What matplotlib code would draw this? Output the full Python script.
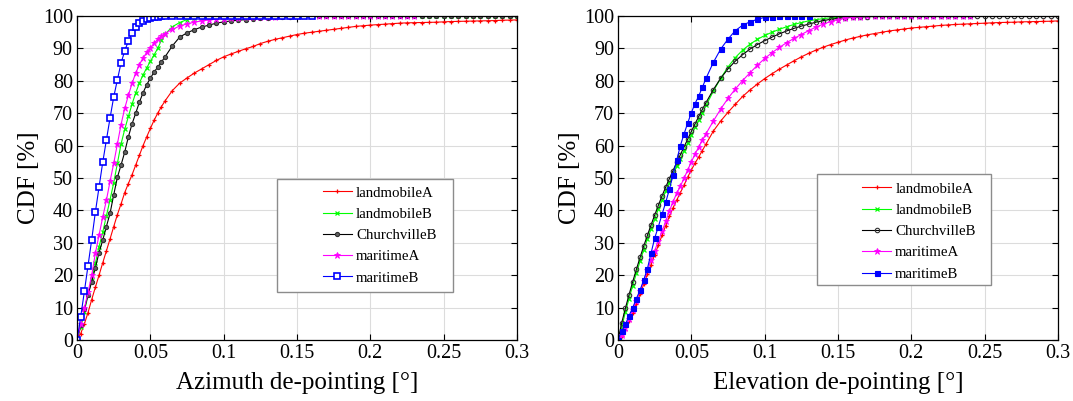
import matplotlib
matplotlib.use("Agg")
import matplotlib.pyplot as plt
from matplotlib.patches import Rectangle

plt.rcParams['font.family'] = ['Liberation Serif', 'DejaVu Serif']

# de-pointing values [deg] at which the CDFs are sampled
depointing = [0, 0.0025, 0.005, 0.0075, 0.01, 0.0125, 0.015, 0.0175, 0.02, 0.0225,
              0.025, 0.0275, 0.03, 0.0325, 0.035, 0.0375, 0.04, 0.0425, 0.045, 0.0475,
              0.05, 0.0525, 0.055, 0.0575, 0.06, 0.065, 0.07, 0.075, 0.08, 0.085,
              0.09, 0.095, 0.1, 0.105, 0.11, 0.115, 0.12, 0.125, 0.13, 0.135,
              0.14, 0.145, 0.15, 0.155, 0.16, 0.165, 0.17, 0.175, 0.18, 0.185,
              0.19, 0.195, 0.2, 0.205, 0.21, 0.215, 0.22, 0.225, 0.23, 0.235,
              0.24, 0.245, 0.25, 0.255, 0.26, 0.265, 0.27, 0.275, 0.28, 0.285,
              0.29, 0.295, 0.3]

labels = ["landmobileA", "landmobileB", "ChurchvilleB", "maritimeA", "maritimeB"]

# azimuth de-pointing CDF [%]
az_landmobileA = [0, 2, 5, 8.5, 12.5, 16.3, 20, 23.8, 27.5, 31.2,
                  35, 38.7, 42, 45.5, 48.3, 51, 54, 57, 60, 62.7,
                  65.3, 67.8, 70, 72, 73.8, 77, 79.3, 80.9, 82.4, 83.7,
                  85, 86.3, 87.4, 88.3, 89.1, 89.9, 90.6, 91.5, 92.2, 92.8,
                  93.3, 93.8, 94.3, 94.7, 95, 95.3, 95.6, 95.9, 96.2, 96.5,
                  96.8, 97, 97.2, 97.35, 97.5, 97.65, 97.8, 97.9, 97.95, 98,
                  98.05, 98.1, 98.2, 98.3, 98.35, 98.4, 98.45, 98.5, 98.55, 98.6,
                  98.7, 98.75, 98.8]
az_landmobileB = [0, 4, 8.8, 13.8, 18.6, 23.7, 28.8, 33.2, 38.3, 43.3,
                  48.5, 54.5, 60.5, 65, 69, 72.8, 76.3, 79.3, 81.8, 84,
                  86, 88, 90, 92.5, 94.4, 96.7, 98, 98.9, 99.4, 99.7,
                  99.8, 99.9, 99.95, 100, 100, 100, 100, 100, 100, 100,
                  100, 100, 100, 100, 100, 100, 100, 100, 100, 100,
                  100, 100, 100, 100, 100, 100, 100, 100, 100, 100,
                  100, 100, 100, 100, 100, 100, 100, 100, 100, 100,
                  100, 100, 100]
az_churchvilleB = [0, 4.5, 9.5, 14, 18, 22.3, 27, 30.8, 35, 39.1,
                   44.8, 50.2, 54, 58, 62.7, 66.7, 70, 73.4, 76.3, 78.8,
                   80.8, 82.7, 84.2, 85.8, 87.4, 90.8, 93.5, 94.8, 95.8, 96.6,
                   97.2, 97.8, 98.2, 98.5, 98.7, 98.9, 99.1, 99.3, 99.45, 99.6,
                   99.75, 99.85, 99.9, 99.93, 99.95, 100, 100, 100, 100, 100,
                   100, 100, 100, 100, 100, 100, 100, 100, 100, 100,
                   100, 100, 100, 100, 100, 100, 100, 100, 100, 100,
                   100, 100, 100]
az_maritimeA = [0, 4.9, 9.8, 14.7, 20, 26.8, 32.4, 37.9, 43.1, 49,
                54.5, 60.5, 66.5, 71.5, 75.5, 79.2, 82.4, 85, 87, 88.8,
                90.2, 91.6, 92.8, 93.8, 94.6, 95.9, 96.9, 97.6, 98.1, 98.5,
                98.8, 99, 99.2, 99.4, 99.5, 99.6, 99.7, 99.75, 99.8, 99.85,
                99.9, 99.92, 99.95, 99.97, 100, 100, 100, 100, 100, 100,
                100, 100, 100, 100, 100, 100, 100, 100, 100]
az_maritimeB = [0, 7.2, 15, 23, 31, 39.5, 47.2, 54.8, 61.7, 68.5,
                75, 80.3, 85.5, 89.2, 92.3, 94.8, 96.6, 97.7, 98.5, 99,
                99.4, 99.7, 99.8, 99.9, 99.95, 100, 100, 100, 100, 100,
                100, 100, 100, 100, 100, 100, 100, 100, 100, 100,
                100, 100, 100, 100, 100]

# elevation de-pointing CDF [%]
el_landmobileA = [0, 1.2, 3.2, 5.8, 8.4, 11.2, 14.2, 17.2, 20.3, 23.3,
                  26.3, 29.3, 32.3, 35.3, 38.2, 40.8, 43.2, 45.5, 47.8, 50.3,
                  52.5, 54.6, 56.5, 58.5, 60.5, 64.5, 67.6, 70.3, 72.8, 75.2,
                  77.2, 79, 80.7, 82.2, 83.6, 84.9, 86.2, 87.4, 88.5, 89.5,
                  90.4, 91.2, 91.9, 92.6, 93.2, 93.7, 94.2, 94.6, 95, 95.4,
                  95.7, 96, 96.3, 96.5, 96.7, 96.9, 97.1, 97.25, 97.4, 97.5,
                  97.6, 97.7, 97.8, 97.9, 98, 98.05, 98.1, 98.2, 98.25, 98.3,
                  98.35, 98.4, 98.5]
el_landmobileB = [0, 4, 8.6, 12.8, 16.8, 20.6, 24.3, 27.8, 31.1, 34.3,
                  37.4, 40.4, 43.3, 46, 48.6, 51.1, 53.6, 56, 58.4, 60.8,
                  63.2, 65.6, 67.9, 70.2, 72.4, 76.8, 80.8, 84.3, 87.2, 89.5,
                  91.3, 92.8, 94, 95, 95.9, 96.7, 97.4, 98, 98.5, 98.9,
                  99.2, 99.45, 99.6, 99.7, 99.8, 99.85, 99.9, 99.93, 99.95, 99.97,
                  100, 100, 100]
el_churchvilleB = [0, 5.3, 9.8, 14, 18, 21.8, 25.5, 29, 32.3, 35.5,
                   38.6, 41.6, 44.5, 47.2, 49.8, 52.3, 54.8, 57.2, 59.6, 62,
                   64.4, 66.7, 69, 71.2, 73.3, 77.3, 80.8, 83.7, 86.1, 88.1,
                   89.8, 91.2, 92.4, 93.5, 94.5, 95.4, 96.2, 96.9, 97.5, 98.1,
                   98.6, 99, 99.3, 99.5, 99.65, 99.75, 99.82, 99.87, 99.9, 99.93,
                   99.95, 99.97, 100, 100, 100, 100, 100, 100, 100, 100,
                   100, 100, 100, 100, 100, 100, 100, 100, 100, 100,
                   100, 100, 100]
el_maritimeA = [0, 1.5, 3.7, 6.5, 9.3, 12.1, 15.2, 18.3, 21.5, 24.6,
                27.6, 30.6, 33.6, 36.6, 39.8, 42.7, 45.3, 47.5, 49.9, 52.5,
                55, 57.4, 59.6, 61.7, 63.7, 67.6, 71.3, 74.6, 77.5, 80.1,
                82.5, 84.8, 86.9, 88.7, 90.3, 91.8, 93.1, 94.3, 95.5, 96.6,
                97.5, 98.3, 98.9, 99.3, 99.6, 99.8, 99.9, 99.95, 100, 100,
                100, 100, 100, 100, 100, 100, 100, 100, 100, 100,
                100]
el_maritimeB = [0, 2.8, 4.8, 7.5, 10, 12.8, 15.4, 18.5, 22, 26.8,
                31.5, 35, 38.8, 42.5, 46.5, 51, 55.5, 60, 63.6, 67,
                70.2, 73, 75.3, 78, 80.8, 85.7, 89.8, 92.9, 95.5, 97.2,
                98.2, 99, 99.6, 99.85, 99.95, 100, 100, 100, 100]

colors = ["#ff0000", "#00ff00", "#000000", "#ff00ff", "#0000ff"]

# marker settings per series for the azimuth and the elevation panel
az_markers = [
    dict(marker="+", ms=3.5, mew=0.9),
    dict(marker="x", ms=3, mew=0.9),
    dict(marker="o", ms=3, mew=0.8, mfc="#606060", mec="#303030"),
    dict(marker="*", ms=4.5, mew=0.6),
    dict(marker="s", ms=4.5, mew=1.2, mfc="white"),
]
el_markers = [
    dict(marker="+", ms=3.5, mew=0.9),
    dict(marker="x", ms=3, mew=0.9),
    dict(marker="o", ms=3.2, mew=0.8, mfc="none", mec="#303030"),
    dict(marker="*", ms=4.5, mew=0.6),
    dict(marker="s", ms=3.6, mew=0.8),
]


def draw_panel(ax, curves, markers, xlabel, box, leg_anchor):
    for cdf, color, lab, mk in zip(curves, colors, labels, markers):
        ax.plot(depointing[:len(cdf)], cdf, color=color, lw=0.8,
                label=lab, **mk)
    ax.set_xlim(0, 0.3)
    ax.set_ylim(0, 100)
    ax.set_xticks([0, 0.05, 0.1, 0.15, 0.2, 0.25, 0.3])
    ax.set_xticklabels(["0", "0.05", "0.1", "0.15", "0.2", "0.25", "0.3"])
    ax.set_yticks(range(0, 101, 10))
    ax.grid(True, color="#dcdcdc", lw=0.8)
    ax.set_axisbelow(True)
    ax.tick_params(direction="in", length=4, width=0.8, top=True, right=True,
                   labelsize=14.5, pad=3)
    for sp in ax.spines.values():
        sp.set_linewidth(0.9)
    ax.set_xlabel(xlabel, fontsize=18, labelpad=6)
    ax.set_ylabel("CDF [%]", fontsize=18, labelpad=2)

    # legend frame with the wide blank margin on its left side
    x0, y0, x1, y1 = box
    ax.add_patch(Rectangle((x0, y0), x1 - x0, y1 - y0, transform=ax.transAxes,
                           facecolor="white", edgecolor="#8c8c8c", lw=1.0,
                           zorder=4))
    leg = ax.legend(loc="upper left", bbox_to_anchor=leg_anchor, frameon=False,
                    fontsize=10.7, borderpad=0, borderaxespad=0,
                    handlelength=1.95, handletextpad=0.27, labelspacing=0.53,
                    numpoints=1)
    leg.set_zorder(5)


fig = plt.figure(figsize=(10.73, 4.01), dpi=100)
ax1 = fig.add_axes([0.0718, 0.152, 0.410, 0.808])
ax2 = fig.add_axes([0.576, 0.152, 0.410, 0.808])

draw_panel(ax1,
           [az_landmobileA, az_landmobileB, az_churchvilleB, az_maritimeA, az_maritimeB],
           az_markers, "Azimuth de-pointing [°]",
           (0.4545, 0.148, 0.8545, 0.497), (0.559, 0.475))
draw_panel(ax2,
           [el_landmobileA, el_landmobileB, el_churchvilleB, el_maritimeA, el_maritimeB],
           el_markers, "Elevation de-pointing [°]",
           (0.452, 0.17, 0.848, 0.512), (0.555, 0.487))

fig.savefig("out.png", dpi=100)
